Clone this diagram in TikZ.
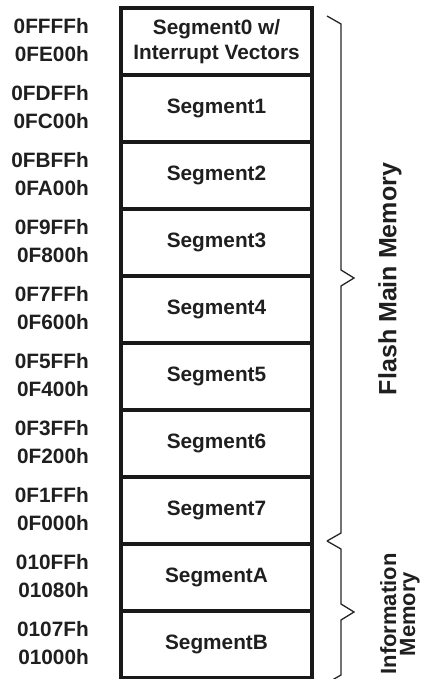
\documentclass[tikz,border=0pt]{standalone}
\usepackage{fontspec}
\setmainfont{Liberation Sans}
\begin{document}
\begin{tikzpicture}[x=1pt,y=-1pt,
  seg/.style={draw=black!90,line width=3.2pt,minimum width=191pt,minimum height=67pt,
    inner sep=0pt,outer sep=0pt,align=center,font=\bfseries\fontsize{20.8}{24.5}\selectfont,text=black!88},
  addr/.style={anchor=base east,inner sep=0pt,font=\bfseries\fontsize{20.8}{24}\selectfont,text=black!88},
  side/.style={rotate=90,inner sep=0pt,align=center,text=black!88},
  brace/.style={draw=black!85,line width=1.3pt,line join=miter}]
\useasboundingbox (0,0) rectangle (421,679);
\begin{scope}
\clip (0,0) rectangle (421,679);
\node[seg] (s0) at (216.5,41.5) {Segment0 w/\\Interrupt Vectors};
\node[seg] (s1) at (216.5,108.5) {Segment1};
\node[seg] (s2) at (216.5,175.5) {Segment2};
\node[seg] (s3) at (216.5,242.5) {Segment3};
\node[seg] (s4) at (216.5,309.5) {Segment4};
\node[seg] (s5) at (216.5,376.5) {Segment5};
\node[seg] (s6) at (216.5,443.5) {Segment6};
\node[seg] (s7) at (216.5,510.5) {Segment7};
\node[seg] (sA) at (216.5,577.5) {SegmentA};
\node[seg] (sB) at (216.5,644.5) {SegmentB};

\node[addr] (a0h) at (89,33.5) {0FFFFh};
\node[addr] (a0l) at (89,61.5) {0FE00h};
\node[addr] (a1h) at (89,100.5) {0FDFFh};
\node[addr] (a1l) at (89,128.5) {0FC00h};
\node[addr] (a2h) at (89,167.5) {0FBFFh};
\node[addr] (a2l) at (89,195.5) {0FA00h};
\node[addr] (a3h) at (89,234.5) {0F9FFh};
\node[addr] (a3l) at (89,262.5) {0F800h};
\node[addr] (a4h) at (89,301.5) {0F7FFh};
\node[addr] (a4l) at (89,329.5) {0F600h};
\node[addr] (a5h) at (89,368.5) {0F5FFh};
\node[addr] (a5l) at (89,396.5) {0F400h};
\node[addr] (a6h) at (89,435.5) {0F3FFh};
\node[addr] (a6l) at (89,463.5) {0F200h};
\node[addr] (a7h) at (89,502.5) {0F1FFh};
\node[addr] (a7l) at (89,530.5) {0F000h};
\node[addr] (aAh) at (89,569.5) {010FFh};
\node[addr] (aAl) at (89,597.5) {01080h};
\node[addr] (aBh) at (89,636.5) {0107Fh};
\node[addr] (aBl) at (89,664.5) {01000h};

\draw[brace] (327,16) -- (341,24) -- (341,270) -- (354,278) -- (341,286) -- (341,533) -- (327,541);
\draw[brace] (327,541) -- (341,549) -- (341,604) -- (354,612) -- (341,620) -- (341,675) -- (327,683);

\node[side,font=\bfseries\fontsize{25}{25}\selectfont] (flash) at (390,279) {Flash Main Memory};
\node[side,font=\bfseries\fontsize{22}{19}\selectfont] (info) at (400,614) {Information\\Memory};
\end{scope}
\end{tikzpicture}
\end{document}
